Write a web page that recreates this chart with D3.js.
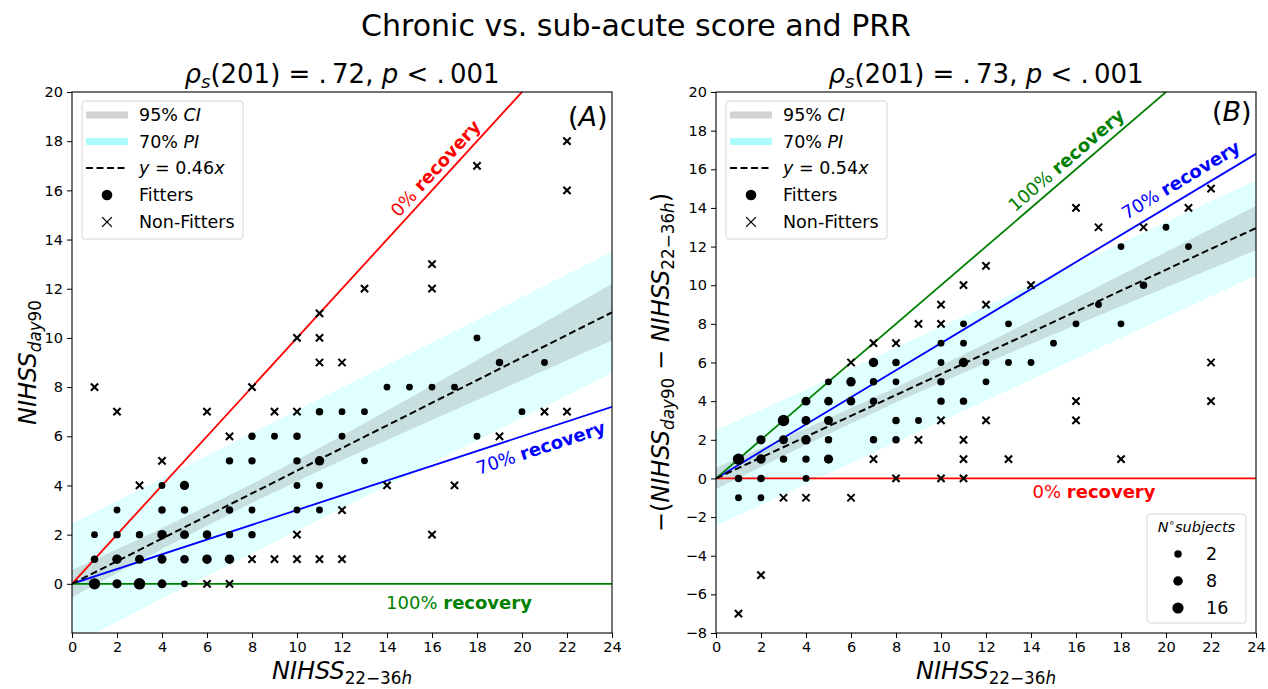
<!DOCTYPE html>
<html>
<head>
<meta charset="utf-8">
<script src="https://cdn.jsdelivr.net/npm/d3@7"></script>
<style>
  body { margin: 0; background: #fff; }
  svg text { font-family: "DejaVu Sans", sans-serif; }
</style>
</head>
<body>
<script>
// ---- values ----
var xTickValues = [0, 2, 4, 6, 8, 10, 12, 14, 16, 18, 20, 22, 24];
var yTickValuesA = [0, 2, 4, 6, 8, 10, 12, 14, 16, 18, 20];
var yTickValuesB = [-8, -6, -4, -2, 0, 2, 4, 6, 8, 10, 12, 14, 16, 18, 20];

// fitters: [NIHSS 22-36h, y, number of subjects]
var fittersA = [
  [1,2,1],[1,1,2],[1,0,17],
  [2,3,1],[2,2,2],[2,1,8],[2,0,7],
  [3,2,2],[3,1,6],[3,0,18],
  [4,4,1],[4,3,2],[4,2,8],[4,1,6],[4,0,6],
  [5,4,7],[5,3,2],[5,2,6],[5,1,5],[5,0,1],
  [6,2,5],[6,1,8],
  [7,5,2],[7,3,2],[7,2,2],[7,1,8],
  [8,6,2],[8,5,2],[8,3,1],[8,2,2],
  [9,6,1],
  [10,6,2],[10,5,2],[10,4,1],[10,3,1],
  [11,7,2],[11,5,8],[11,4,1],[11,3,1],
  [12,7,1],[12,6,1],
  [13,7,1],[13,5,1],
  [14,8,1],[15,8,1],[16,8,1],[17,8,1],
  [18,10,1],[18,6,1],
  [19,9,2],[20,7,1],[21,9,1]
];
var nonFittersA = [
  [1,8],[2,7],[3,4],[4,5],[6,7],[6,0],[7,6],[7,0],[8,8],[8,1],
  [9,7],[9,1],[10,10],[10,7],[10,2],[10,1],[11,11],[11,10],[11,9],[11,1],
  [12,9],[12,3],[12,1],[13,12],[14,4],[16,13],[16,12],[16,2],[17,4],[18,17],
  [19,6],[21,7],[22,18],[22,16],[22,7]
];
var fittersB = [
  [1,-1,1],[1,0,2],[1,1,17],
  [2,-1,1],[2,0,2],[2,1,8],[2,2,7],
  [3,1,2],[3,2,6],[3,3,18],
  [4,0,1],[4,1,2],[4,2,8],[4,3,6],[4,4,6],
  [5,1,7],[5,2,2],[5,3,6],[5,4,5],[5,5,1],
  [6,4,5],[6,5,8],
  [7,2,2],[7,4,2],[7,5,2],[7,6,8],
  [8,2,2],[8,3,2],[8,5,1],[8,6,2],
  [9,3,1],
  [10,4,2],[10,5,2],[10,6,1],[10,7,1],
  [11,4,2],[11,6,8],[11,7,1],[11,8,1],
  [12,5,1],[12,6,1],
  [13,6,1],[13,8,1],
  [14,6,1],[15,7,1],[16,8,1],[17,9,1],
  [18,8,1],[18,12,1],
  [19,10,2],[20,13,1],[21,12,1]
];
var nonFittersB = [
  [1,-7],[2,-5],[3,-1],[4,-1],[6,-1],[6,6],[7,1],[7,7],[8,0],[8,7],
  [9,2],[9,8],[10,0],[10,3],[10,8],[10,9],[11,0],[11,1],[11,2],[11,10],
  [12,3],[12,9],[12,11],[13,1],[14,10],[16,3],[16,4],[16,14],[17,13],[18,1],
  [19,13],[21,14],[22,4],[22,6],[22,15]
];

var fitSlopeA = 0.46;
var fitSlopeB = 0.54;
var recoveryNames = ["0%", "70%", "100%"];
var recoverySlopesA = [1, 0.3, 0];
var recoverySlopesB = [0, 0.7, 1];

// confidence / prediction bands, sampled at bandX
var bandX = [0, 4, 8, 12, 16, 20, 24];
var ciLowA  = [-0.55, 1.42, 3.30, 5.02, 6.66, 8.28, 9.89];
var ciHighA = [0.55, 2.26, 4.06, 6.02, 8.06, 10.12, 12.19];
var piLowA  = [-2.50, -0.60, 1.23, 3.07, 4.90, 6.74, 8.57];
var piHighA = [2.45, 4.29, 6.13, 7.97, 9.81, 11.66, 13.50];
var ciLowB  = [-0.55, 1.74, 3.94, 5.98, 7.94, 9.88, 11.81];
var ciHighB = [0.55, 2.58, 4.70, 6.98, 9.34, 11.72, 14.11];
var piLowB  = [-2.45, -0.29, 1.87, 4.03, 6.19, 8.34, 10.50];
var piHighB = [2.50, 4.60, 6.77, 8.93, 11.10, 13.26, 15.43];

var sizeLegendValues = [2, 8, 16];

// ---- drawing ----
var svg = d3.select("body").append("svg")
    .attr("width", 1268)
    .attr("height", 689);

var recoveryColors = ["#ff0000", "#0000ff", "#008000"];
var rScale = d3.scaleSqrt().domain([0, 16]).range([2.7, 5.6]);
var crossSym = d3.symbol().type(d3.symbolTimes).size(36);
var crossLegend = d3.symbol().type(d3.symbolTimes).size(64);

// text made of plain / italic / bold / sub / sup pieces
function rich(sel, parts, size) {
    var shift = 0;
    parts.forEach(function(pt) {
        var target = pt.sub ? size * 0.2 : (pt.sup ? -size * 0.38 : 0);
        var ts = sel.append("tspan").text(pt.t);
        if (target - shift !== 0) ts.attr("dy", target - shift);
        shift = target;
        if (pt.i) ts.attr("font-style", "italic");
        if (pt.b) ts.attr("font-weight", "bold");
        if (pt.sub || pt.sup) ts.attr("font-size", size * 0.7);
    });
    return sel;
}

function nihss(subParts) {
    return [{t: "NIHSS", i: true}].concat(subParts);
}
var subDay = [{t: "day", i: true, sub: true}, {t: "90", sub: true}];
var subHours = [{t: "22\u221236", sub: true}, {t: "h", i: true, sub: true}];

svg.append("text")
    .attr("x", 636).attr("y", 36)
    .attr("text-anchor", "middle")
    .attr("font-size", 30)
    .text("Chronic vs. sub-acute score and PRR");

var panels = [
  {name: "A", left: 72, right: 612, yDomain: [-2, 20], yTicks: yTickValuesA,
   fit: fittersA, non: nonFittersA, slope: fitSlopeA, slopes: recoverySlopesA,
   ciLow: ciLowA, ciHigh: ciHighA, piLow: piLowA, piHigh: piHighA,
   rho: ".72", labelAt: [16.56, 20.6, 17.2], labelOff: [-6, 23, 25],
   ylabel: nihss(subDay), ylabelX: 36},
  {name: "B", left: 716, right: 1256, yDomain: [-8, 20], yTicks: yTickValuesB,
   fit: fittersB, non: nonFittersB, slope: fitSlopeB, slopes: recoverySlopesB,
   ciLow: ciLowB, ciHigh: ciHighB, piLow: piLowB, piHigh: piHighB,
   rho: ".73", labelAt: [16.8, 21.03, 15.95], labelOff: [20, -10, -7],
   ylabel: [{t: "\u2212("}].concat(nihss(subDay), [{t: " \u2212 "}], nihss(subHours), [{t: ")"}]),
   ylabelX: 669}
];
var axTop = 92, axBottom = 633;

panels.forEach(function(p) {
    var x = d3.scaleLinear().domain([0, 24]).range([p.left, p.right]);
    var y = d3.scaleLinear().domain(p.yDomain).range([axBottom, axTop]);
    var g = svg.append("g");

    svg.append("clipPath").attr("id", "clip" + p.name)
      .append("rect")
        .attr("x", p.left).attr("y", axTop)
        .attr("width", p.right - p.left).attr("height", axBottom - axTop);
    var plot = g.append("g").attr("clip-path", "url(#clip" + p.name + ")");

    var area = d3.area()
        .x(function(d) { return x(d.x); })
        .y0(function(d) { return y(d.lo); })
        .y1(function(d) { return y(d.hi); });
    plot.append("path")
        .datum(bandX.map(function(v, i) { return {x: v, lo: p.piLow[i], hi: p.piHigh[i]}; }))
        .attr("d", area)
        .attr("fill", "#e0ffff");
    plot.append("path")
        .datum(bandX.map(function(v, i) { return {x: v, lo: p.ciLow[i], hi: p.ciHigh[i]}; }))
        .attr("d", area)
        .attr("fill", "#808080")
        .attr("fill-opacity", 0.25);

    p.slopes.forEach(function(s, i) {
        plot.append("line")
            .attr("x1", x(0)).attr("y1", y(0))
            .attr("x2", x(24)).attr("y2", y(24 * s))
            .attr("stroke", recoveryColors[i])
            .attr("stroke-width", 1.8);
    });
    plot.append("line")
        .attr("x1", x(0)).attr("y1", y(0))
        .attr("x2", x(24)).attr("y2", y(24 * p.slope))
        .attr("stroke", "#000")
        .attr("stroke-width", 2)
        .attr("stroke-dasharray", "7,3.5");

    plot.selectAll("circle.fit")
        .data(p.fit)
        .enter().append("circle")
            .attr("cx", function(d) { return x(d[0]); })
            .attr("cy", function(d) { return y(d[1]); })
            .attr("r", function(d) { return rScale(d[2]); })
            .attr("fill", "#000");
    plot.selectAll("path.non")
        .data(p.non)
        .enter().append("path")
            .attr("d", crossSym)
            .attr("transform", function(d) { return "translate(" + x(d[0]) + "," + y(d[1]) + ")"; })
            .attr("fill", "none")
            .attr("stroke", "#000")
            .attr("stroke-width", 2.1);

    // recovery labels along their lines
    p.slopes.forEach(function(s, i) {
        var ax = p.labelAt[i];
        var ang = Math.atan2(y(24 * s) - y(0), x(24) - x(0)) * 180 / Math.PI;
        var t = g.append("text")
            .attr("transform", "translate(" + x(ax) + "," + y(s * ax) + ") rotate(" + ang + ")")
            .attr("y", p.labelOff[i])
            .attr("text-anchor", "middle")
            .attr("font-size", 18)
            .attr("fill", recoveryColors[i]);
        rich(t, [{t: recoveryNames[i] + " "}, {t: "recovery", b: true}], 18);
    });

    // frame + axes
    g.append("rect")
        .attr("x", p.left).attr("y", axTop)
        .attr("width", p.right - p.left).attr("height", axBottom - axTop)
        .attr("fill", "none").attr("stroke", "#000").attr("stroke-width", 1.1);
    var xa = g.append("g")
        .attr("transform", "translate(0," + axBottom + ")")
        .call(d3.axisBottom(x).tickValues(xTickValues).tickSize(5).tickPadding(4));
    var ya = g.append("g")
        .attr("transform", "translate(" + p.left + ",0)")
        .call(d3.axisLeft(y).tickValues(p.yTicks).tickSize(5).tickPadding(4));
    [xa, ya].forEach(function(a) {
        a.select(".domain").remove();
        a.attr("font-family", "DejaVu Sans").attr("font-size", 14.5);
        a.selectAll("line").attr("stroke", "#000");
        a.selectAll("text").attr("fill", "#000");
    });

    // panel letter
    var pl = g.append("text")
        .attr("x", x(23.8)).attr("y", y(19))
        .attr("dy", "0.36em")
        .attr("text-anchor", "end")
        .attr("font-size", 27);
    rich(pl, [{t: "("}, {t: p.name, i: true}, {t: ")"}], 27);

    // subtitle
    var st = g.append("text")
        .attr("x", (p.left + p.right) / 2).attr("y", 83)
        .attr("text-anchor", "middle")
        .attr("font-size", 26);
    rich(st, [{t: "\u03c1", i: true}, {t: "s", i: true, sub: true},
              {t: "(201) = " + p.rho.replace(".", ".\u2009") + ", "}, {t: "p", i: true},
              {t: " < .\u2009001"}], 26);

    // axis labels
    var xl = g.append("text")
        .attr("x", (p.left + p.right) / 2).attr("y", 679)
        .attr("text-anchor", "middle")
        .attr("font-size", 24);
    rich(xl, nihss(subHours), 24);
    var yl = g.append("text")
        .attr("transform", "translate(" + p.ylabelX + "," + ((axTop + axBottom) / 2) + ") rotate(-90)")
        .attr("text-anchor", "middle")
        .attr("font-size", 24);
    rich(yl, p.ylabel, 24);

    // legend
    var lg = g.append("g").attr("transform", "translate(" + (p.left + 10) + "," + (axTop + 9) + ")");
    lg.append("rect")
        .attr("width", 161).attr("height", 138).attr("rx", 3)
        .attr("fill", "#fff").attr("fill-opacity", 0.8)
        .attr("stroke", "#d6d6d6");
    var rows = [14, 40.5, 67, 94, 121];
    lg.append("line").attr("x1", 4).attr("x2", 46).attr("y1", rows[0]).attr("y2", rows[0])
        .attr("stroke", "#d3d3d3").attr("stroke-width", 7);
    lg.append("line").attr("x1", 4).attr("x2", 46).attr("y1", rows[1]).attr("y2", rows[1])
        .attr("stroke", "#affcfc").attr("stroke-width", 7);
    lg.append("line").attr("x1", 4).attr("x2", 46).attr("y1", rows[2]).attr("y2", rows[2])
        .attr("stroke", "#000").attr("stroke-width", 2).attr("stroke-dasharray", "7,3.5");
    lg.append("circle").attr("cx", 25).attr("cy", rows[3]).attr("r", 5.3).attr("fill", "#000");
    lg.append("path").attr("d", crossLegend)
        .attr("transform", "translate(25," + rows[4] + ")")
        .attr("fill", "none").attr("stroke", "#000").attr("stroke-width", 1.3);
    var entries = [
        [{t: "95% "}, {t: "CI", i: true}],
        [{t: "70% "}, {t: "PI", i: true}],
        [{t: "y", i: true}, {t: " = " + p.slope.toFixed(2)}, {t: "x", i: true}],
        [{t: "Fitters"}],
        [{t: "Non-Fitters"}]
    ];
    entries.forEach(function(e, i) {
        var t = lg.append("text")
            .attr("x", 57).attr("y", rows[i])
            .attr("dy", "0.36em")
            .attr("font-size", 17.5);
        rich(t, e, 17.5);
    });

    // size legend only on the right panel
    if (p.name === "B") {
        var sl = g.append("g").attr("transform", "translate(" + (p.right - 109) + "," + (axBottom - 119) + ")");
        sl.append("rect")
            .attr("width", 99).attr("height", 109).attr("rx", 3)
            .attr("fill", "#fff").attr("fill-opacity", 0.8)
            .attr("stroke", "#d6d6d6");
        var tt = sl.append("text")
            .attr("x", 49.5).attr("y", 18)
            .attr("text-anchor", "middle")
            .attr("font-size", 14.5);
        rich(tt, [{t: "N", i: true}, {t: "\u2218", sup: true}, {t: "subjects", i: true}], 14.5);
        sl.selectAll("circle.size")
            .data(sizeLegendValues)
            .enter().append("circle")
                .attr("cx", 31)
                .attr("cy", function(d, i) { return 40 + i * 27; })
                .attr("r", function(d) { return rScale(d); })
                .attr("fill", "#000");
        sl.selectAll("text.size")
            .data(sizeLegendValues)
            .enter().append("text")
                .attr("x", 59)
                .attr("y", function(d, i) { return 40 + i * 27; })
                .attr("dy", "0.36em")
                .attr("font-size", 17.5)
                .text(function(d) { return d; });
    }
});
</script>
</body>
</html>
